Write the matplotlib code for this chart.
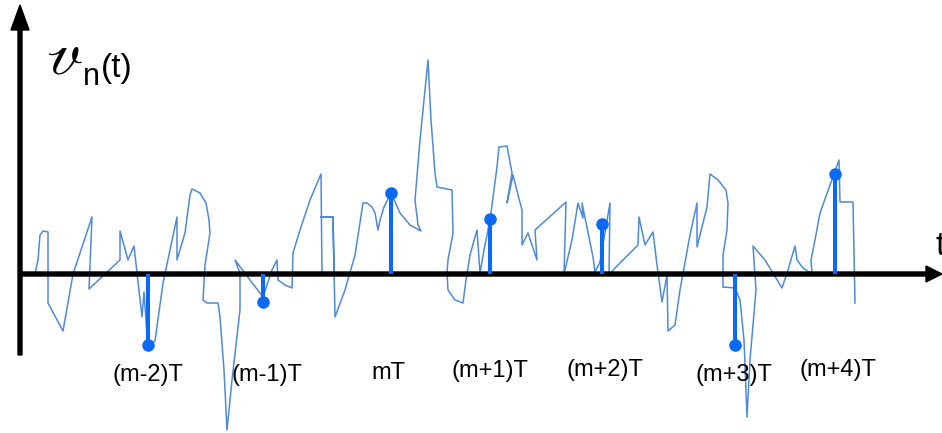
import matplotlib.pyplot as plt
import numpy as np

# noise waveform v_n(t): time (px from left) and amplitude (px above the t axis)
noise_t = [35, 38, 40, 43, 48, 48, 63, 73, 92, 89, 120, 120, 128, 134, 142, 144, 147, 150, 155,
           163, 177, 177, 185, 190, 192, 200, 206, 209, 210, 205, 203, 207, 218, 220, 224, 227,
           232, 240, 240, 235, 250, 263, 272, 277, 278, 285, 292, 293, 300, 310, 321, 322, 334,
           333, 321, 333, 335, 345, 355, 363, 367, 372, 375, 378, 380, 384, 391, 400, 410, 421,
           418, 415, 420, 428, 431, 435, 437, 452, 453, 448, 447, 448, 455, 463, 466, 470, 477,
           480, 484, 490, 497, 499, 507, 512, 507, 513, 518, 522, 522, 528, 537, 535, 566, 564,
           572, 578, 583, 582, 593, 595, 600, 610, 609, 615, 620, 638, 639, 645, 653, 657, 662,
           667, 668, 675, 680, 690, 697, 697, 707, 710, 718, 726, 728, 727, 723, 723, 735, 740,
           744, 747, 750, 756, 753, 765, 782, 788, 795, 797, 803, 812, 811, 815, 820, 839, 840,
           853, 854, 855]
noise_y = [274, 260, 235, 231, 232, 303, 331, 274, 217, 289, 260, 231, 260, 246, 317, 292, 335,
           345, 341, 283, 217, 260, 233, 195, 189, 193, 203, 220, 233, 265, 300, 303, 303, 317,
           370, 430, 380, 310, 273, 260, 280, 297, 270, 260, 280, 285, 288, 253, 230, 200, 174,
           274, 274, 217, 217, 217, 317, 290, 255, 203, 203, 207, 213, 230, 220, 207, 193, 213,
           225, 231, 225, 200, 140, 60, 120, 173, 187, 190, 233, 260, 273, 290, 300, 303, 280,
           255, 230, 273, 250, 220, 167, 147, 146, 173, 203, 175, 195, 210, 245, 233, 260, 230,
           202, 274, 240, 203, 218, 203, 257, 272, 262, 203, 275, 268, 263, 245, 217, 245, 232,
           265, 302, 275, 331, 325, 290, 235, 203, 247, 207, 174, 180, 190, 203, 230, 255, 287,
           288, 300, 340, 417, 360, 290, 246, 260, 288, 270, 246, 260, 268, 274, 260, 240, 213,
           160, 202, 202, 250, 303]
noise_v = [274 - y for y in noise_y]

# samples at t = kT
sample_t = [148, 263, 391, 490, 602, 735, 835]
sample_v = [-71, -28, 81, 55, 50, -71, 100]
sample_labels = ["(m-2)T", "(m-1)T", "mT", "(m+1)T", "(m+2)T", "(m+3)T", "(m+4)T"]
label_t = [148, 267, 388, 490, 605, 734, 838]
label_v = [-101, -101, -99, -97, -96, -101, -96]

fig = plt.figure(figsize=(9.42, 4.33), dpi=100)
ax = fig.add_axes([0, 0, 1, 1])
ax.set_xlim(0, 942)
ax.set_ylim(274 - 433, 274)
ax.axis("off")

# axes with arrow heads
ax.arrow(20, 274 - 355, 0, 355 - 5, width=4, head_width=18, head_length=25,
         length_includes_head=True, color="black", zorder=3)
ax.arrow(20, 0, 922, 0, width=4, head_width=16, head_length=16,
         length_includes_head=True, color="black", zorder=3)

ax.plot(noise_t, noise_v, color="#4f8ad9", lw=1.1, zorder=2)

ax.vlines(sample_t, 0, sample_v, color="#0a6af6", lw=2.9, zorder=4)
ax.plot(sample_t, sample_v, "o", color="#0a6af6", ms=8, zorder=5)

for x, y, s in zip(label_t, label_v, sample_labels):
    ax.text(x, y, s, ha="center", va="center", fontsize=17, family="Liberation Sans")

ax.text(46, 274 - 73, r"$\mathscr{v}$", fontsize=43, math_fontfamily="stix", va="baseline")
ax.text(83, 274 - 85, "n", fontsize=22, family="Liberation Sans", va="baseline")
ax.text(101, 274 - 77, "(t)", fontsize=24, family="Liberation Sans", va="baseline")
ax.text(935, 274 - 255, "t", fontsize=24, family="Liberation Sans", va="baseline")

fig.savefig("out.png", dpi=100)
